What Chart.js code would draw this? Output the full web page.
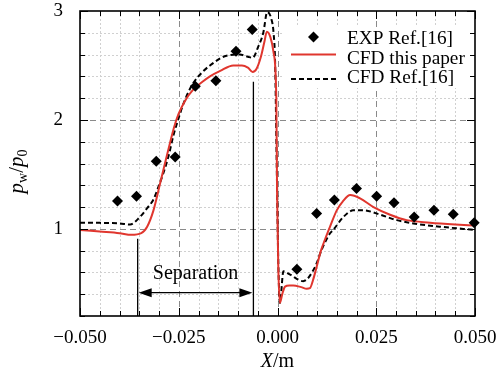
<!DOCTYPE html>
<html>
<head>
<meta charset="utf-8">
<script src="https://cdn.jsdelivr.net/npm/chart.js@4.4.0/dist/chart.umd.min.js"></script>
<style>
  html, body { margin: 0; padding: 0; background: #fff; }
</style>
</head>
<body>
<canvas id="pChart" width="498" height="373"></canvas>
<script>
// ---- values ----
const expX = [-0.0405, -0.0357, -0.0307, -0.0259, -0.0208, -0.0156, -0.0105, -0.0064,
              0.0049, 0.0099, 0.0144, 0.0200, 0.0251, 0.0295, 0.0346, 0.0396, 0.0445, 0.0498];
const expY = [1.256, 1.30, 1.62, 1.66, 2.31, 2.36, 2.63, 2.83,
              0.63, 1.14, 1.265, 1.37, 1.30, 1.24, 1.11, 1.17, 1.135, 1.055];

// CFD this paper (red solid)
const cfdX = [-0.050, -0.045, -0.040, -0.037, -0.0345, -0.033, -0.0314, -0.0297, -0.0285, -0.0272,
              -0.0262, -0.0251, -0.0235, -0.0213, -0.019, -0.0171, -0.0145, -0.0112, -0.009, -0.0075,
              -0.0063, -0.0053, -0.0042, -0.0033, -0.0027, -0.0018, -0.001, -0.0003, -0.0001, 0.0002,
              0.0006, 0.0012, 0.0019, 0.003, 0.004, 0.006, 0.0074, 0.0082, 0.009, 0.0099,
              0.011, 0.012, 0.0133, 0.015, 0.0165, 0.0184, 0.0209, 0.0243, 0.0285, 0.0327,
              0.0386, 0.045, 0.050];
const cfdY = [0.99, 0.975, 0.96, 0.945, 0.96, 1.02, 1.17, 1.42, 1.60, 1.79,
              1.93, 2.05, 2.17, 2.28, 2.35, 2.40, 2.45, 2.50, 2.50, 2.48,
              2.44, 2.47, 2.58, 2.72, 2.81, 2.76, 2.62, 2.20, 1.30, 0.65,
              0.32, 0.40, 0.47, 0.48, 0.48, 0.465, 0.45, 0.455, 0.53, 0.65,
              0.80, 0.90, 1.02, 1.17, 1.25, 1.31, 1.28, 1.20, 1.13, 1.08,
              1.057, 1.04, 1.03];

// CFD Ref.[16] (black dashed)
const refX = [-0.050, -0.045, -0.040, -0.0373, -0.0348, -0.033, -0.0314, -0.030, -0.0289, -0.0275,
              -0.0264, -0.025, -0.0238, -0.0225, -0.0213, -0.019, -0.0171, -0.0129, -0.0095, -0.0075,
              -0.0063, -0.0049, -0.0036, -0.0026, -0.0015, -0.001, -0.0006, -0.0002, 0.0002, 0.0006,
              0.0015, 0.0032, 0.0065, 0.0095, 0.0112, 0.0133, 0.0141, 0.0167, 0.0192, 0.0217,
              0.026, 0.0302, 0.0344, 0.0411, 0.050];
const refY = [1.057, 1.055, 1.05, 1.04, 1.11, 1.19, 1.27, 1.40, 1.51, 1.68,
              1.85, 2.02, 2.15, 2.26, 2.34, 2.44, 2.50, 2.59, 2.60, 2.58,
              2.57, 2.67, 2.80, 2.99, 2.92, 2.80, 2.52, 1.60, 0.70, 0.32,
              0.61, 0.58, 0.52, 0.65, 0.81, 0.96, 0.99, 1.11, 1.17, 1.17,
              1.13, 1.08, 1.05, 1.02, 0.99];

const xMajor = [-0.05, -0.025, 0, 0.025, 0.05];
const xTickLabels = ["\u22120.050", "\u22120.025", "0.000", "0.025", "0.050"];
const yMajor = [1, 2, 3];
const yTickLabels = ["1", "2", "3"];

// separation region: start / end x, and the y levels used by the annotation
const separation = [-0.0354, -0.0061];
const sepLineTop = [0.91, 2.35];
const sepArrowY = 0.414;
const sepTextY = 0.54;

const seriesNames = ["EXP Ref.[16]", "CFD this paper", "CFD Ref.[16]"];

const SERIF = "'Liberation Serif', 'Times New Roman', serif";
const RED = "#e0362e";

const zip = (xs, ys) => xs.map((x, i) => ({ x, y: ys[i] }));
const findIdx = (arr, v) => arr.findIndex(m => Math.abs(m - v) < 1e-9);

/**
 * grid lines (dashed at labelled values, dotted elsewhere) + white legend box
 */
const gridPlugin = {
  id: "gridPlugin",
  beforeDatasetsDraw(chart) {
    const { ctx, chartArea: a, scales: { x, y } } = chart;
    ctx.save();
    ctx.lineWidth = 1;
    x.ticks.forEach(t => {
      const px = Math.round(x.getPixelForValue(t.value)) + 0.5;
      if (px <= a.left + 1 || px >= a.right - 1) return;
      const major = findIdx(xMajor, t.value) >= 0;
      ctx.strokeStyle = major ? "#8a8a8a" : "#d0d0d0";
      ctx.setLineDash(major ? [6, 4] : [2, 2]);
      ctx.beginPath(); ctx.moveTo(px, a.top); ctx.lineTo(px, a.bottom); ctx.stroke();
    });
    y.ticks.forEach(t => {
      const py = Math.round(y.getPixelForValue(t.value)) + 0.5;
      if (py <= a.top + 1 || py >= a.bottom - 1) return;
      const major = findIdx(yMajor, t.value) >= 0;
      ctx.strokeStyle = major ? "#8a8a8a" : "#d0d0d0";
      ctx.setLineDash(major ? [6, 4] : [2, 2]);
      ctx.beginPath(); ctx.moveTo(a.left, py); ctx.lineTo(a.right, py); ctx.stroke();
    });
    ctx.setLineDash([]);
    // legend background hides the grid
    ctx.fillStyle = "#fff";
    ctx.fillRect(a.right - 192, a.top + 16, 191, 61);
    ctx.restore();
  }
};

/**
 * separation annotation, frame with inward ticks, legend and axis titles
 */
const decorPlugin = {
  id: "decorPlugin",
  afterDatasetsDraw(chart) {
    const { ctx, chartArea: a, scales: { x, y } } = chart;
    ctx.save();

    // --- separation marker ---
    const x0 = x.getPixelForValue(separation[0]);
    const x1 = x.getPixelForValue(separation[1]);
    ctx.strokeStyle = "#000";
    ctx.lineWidth = 1.3;
    ctx.beginPath();
    ctx.moveTo(x0, y.getPixelForValue(sepLineTop[0])); ctx.lineTo(x0, a.bottom);
    ctx.moveTo(x1, y.getPixelForValue(sepLineTop[1])); ctx.lineTo(x1, a.bottom);
    const ay = y.getPixelForValue(sepArrowY);
    ctx.moveTo(x0 + 6, ay); ctx.lineTo(x1 - 6, ay);
    ctx.stroke();
    ctx.fillStyle = "#000";
    [[x0 + 1, 1], [x1 - 1, -1]].forEach(([tip, dir]) => {
      ctx.beginPath();
      ctx.moveTo(tip, ay);
      ctx.lineTo(tip + dir * 13, ay - 4.5);
      ctx.lineTo(tip + dir * 13, ay + 4.5);
      ctx.closePath();
      ctx.fill();
    });
    ctx.font = "20px " + SERIF;
    ctx.textAlign = "center";
    ctx.textBaseline = "alphabetic";
    ctx.fillText("Separation", (x0 + x1) / 2, y.getPixelForValue(sepTextY));

    // --- legend ---
    const ds = chart.data.datasets;
    const tx = a.right - 128;
    const sx0 = a.right - 184, sx1 = a.right - 139;
    ctx.font = "19.3px " + SERIF;
    ctx.textAlign = "left";
    ctx.fillStyle = "#000";
    ctx.fillText(seriesNames[0], tx, a.top + 33);
    ctx.fillText(seriesNames[1], tx, a.top + 52.5);
    ctx.fillText(seriesNames[2], tx, a.top + 72);
    // diamond
    const dx = (sx0 + sx1) / 2, dy = a.top + 26, r = ds[0].pointRadius;
    ctx.beginPath();
    ctx.moveTo(dx, dy - r); ctx.lineTo(dx + r, dy); ctx.lineTo(dx, dy + r); ctx.lineTo(dx - r, dy);
    ctx.closePath();
    ctx.fillStyle = ds[0].backgroundColor;
    ctx.fill();
    // solid and dashed samples
    [[ds[1], a.top + 43.5], [ds[2], a.top + 68]].forEach(([d, ly]) => {
      ctx.strokeStyle = d.borderColor;
      ctx.lineWidth = d.borderWidth;
      ctx.setLineDash(d.borderDash || []);
      ctx.beginPath(); ctx.moveTo(sx0, ly); ctx.lineTo(sx1, ly); ctx.stroke();
    });
    ctx.setLineDash([]);

    // --- frame and inward ticks ---
    ctx.strokeStyle = "#000";
    ctx.lineWidth = 1;
    x.ticks.forEach(t => {
      const px = Math.round(x.getPixelForValue(t.value)) + 0.5;
      const len = findIdx(xMajor, t.value) >= 0 ? 8 : 5;
      ctx.beginPath();
      ctx.moveTo(px, a.bottom); ctx.lineTo(px, a.bottom - len);
      ctx.moveTo(px, a.top); ctx.lineTo(px, a.top + len);
      ctx.stroke();
    });
    y.ticks.forEach(t => {
      const py = Math.round(y.getPixelForValue(t.value)) + 0.5;
      const len = findIdx(yMajor, t.value) >= 0 ? 8 : 5;
      ctx.beginPath();
      ctx.moveTo(a.left, py); ctx.lineTo(a.left + len, py);
      ctx.moveTo(a.right, py); ctx.lineTo(a.right - len, py);
      ctx.stroke();
    });
    ctx.lineWidth = 1.6;
    ctx.strokeRect(a.left, a.top, a.right - a.left, a.bottom - a.top);
    ctx.restore();
  },
  afterDraw(chart) {
    const { ctx, chartArea: a } = chart;
    ctx.save();
    ctx.fillStyle = "#000";
    ctx.textBaseline = "alphabetic";
    ctx.textAlign = "left";

    // x title: X/m
    const xParts = [["italic 20px " + SERIF, "X", 0], ["20px " + SERIF, "/m", 0]];
    drawParts(ctx, xParts, (a.left + a.right) / 2, 367);

    // y title: p_w / p_0 (rotated)
    ctx.translate(23, (a.top + a.bottom) / 2 + 8);
    ctx.rotate(-Math.PI / 2);
    const yParts = [
      ["italic 21px " + SERIF, "p", 0],
      ["14px " + SERIF, "w", 4],
      ["21px " + SERIF, "/", 0],
      ["italic 21px " + SERIF, "p", 0],
      ["14px " + SERIF, "0", 4]
    ];
    drawParts(ctx, yParts, 0, 0);
    ctx.restore();
  }
};

// draws text pieces centred on cx, sharing baseline by
function drawParts(ctx, parts, cx, by) {
  let total = 0;
  parts.forEach(([f, t]) => { ctx.font = f; total += ctx.measureText(t).width; });
  let px = cx - total / 2;
  parts.forEach(([f, t, dy]) => {
    ctx.font = f;
    ctx.fillText(t, px, by + dy);
    px += ctx.measureText(t).width;
  });
}

new Chart(document.getElementById("pChart"), {
  type: "scatter",
  data: {
    datasets: [
      {
        label: seriesNames[0],
        data: zip(expX, expY),
        showLine: false,
        pointStyle: "rectRot",
        pointRadius: 5.5,
        backgroundColor: "#000",
        borderColor: "#000",
        borderWidth: 0,
        clip: false
      },
      {
        label: seriesNames[1],
        data: zip(cfdX, cfdY),
        showLine: true,
        borderColor: RED,
        backgroundColor: RED,
        borderWidth: 2,
        pointRadius: 0,
        cubicInterpolationMode: "monotone"
      },
      {
        label: seriesNames[2],
        data: zip(refX, refY),
        showLine: true,
        borderColor: "#000",
        backgroundColor: "#000",
        borderWidth: 2,
        borderDash: [5, 3],
        pointRadius: 0,
        cubicInterpolationMode: "monotone"
      }
    ]
  },
  options: {
    responsive: false,
    animation: false,
    devicePixelRatio: 1,
    layout: { padding: { top: 11, right: 23, left: 0, bottom: 0 } },
    plugins: { legend: { display: false }, tooltip: { enabled: false } },
    scales: {
      x: {
        type: "linear",
        min: -0.05,
        max: 0.05,
        grid: { display: false },
        border: { display: false },
        ticks: {
          stepSize: 0.005,
          autoSkip: false,
          maxRotation: 0,
          padding: 3,
          color: "#000",
          font: { family: SERIF, size: 19 },
          callback: v => { const i = findIdx(xMajor, v); return i < 0 ? "" : xTickLabels[i]; }
        },
        afterFit: s => { s.height = 57; s.paddingLeft = 0; s.paddingRight = 0; }
      },
      y: {
        type: "linear",
        min: 0.2,
        max: 3,
        grid: { display: false },
        border: { display: false },
        ticks: {
          stepSize: 0.2,
          autoSkip: false,
          padding: 9,
          color: "#000",
          font: { family: SERIF, size: 19 },
          callback: v => { const i = findIdx(yMajor, v); return i < 0 ? "" : yTickLabels[i]; }
        },
        afterFit: s => { s.width = 80; s.paddingTop = 0; s.paddingBottom = 0; }
      }
    }
  },
  plugins: [gridPlugin, decorPlugin]
});
</script>
</body>
</html>
